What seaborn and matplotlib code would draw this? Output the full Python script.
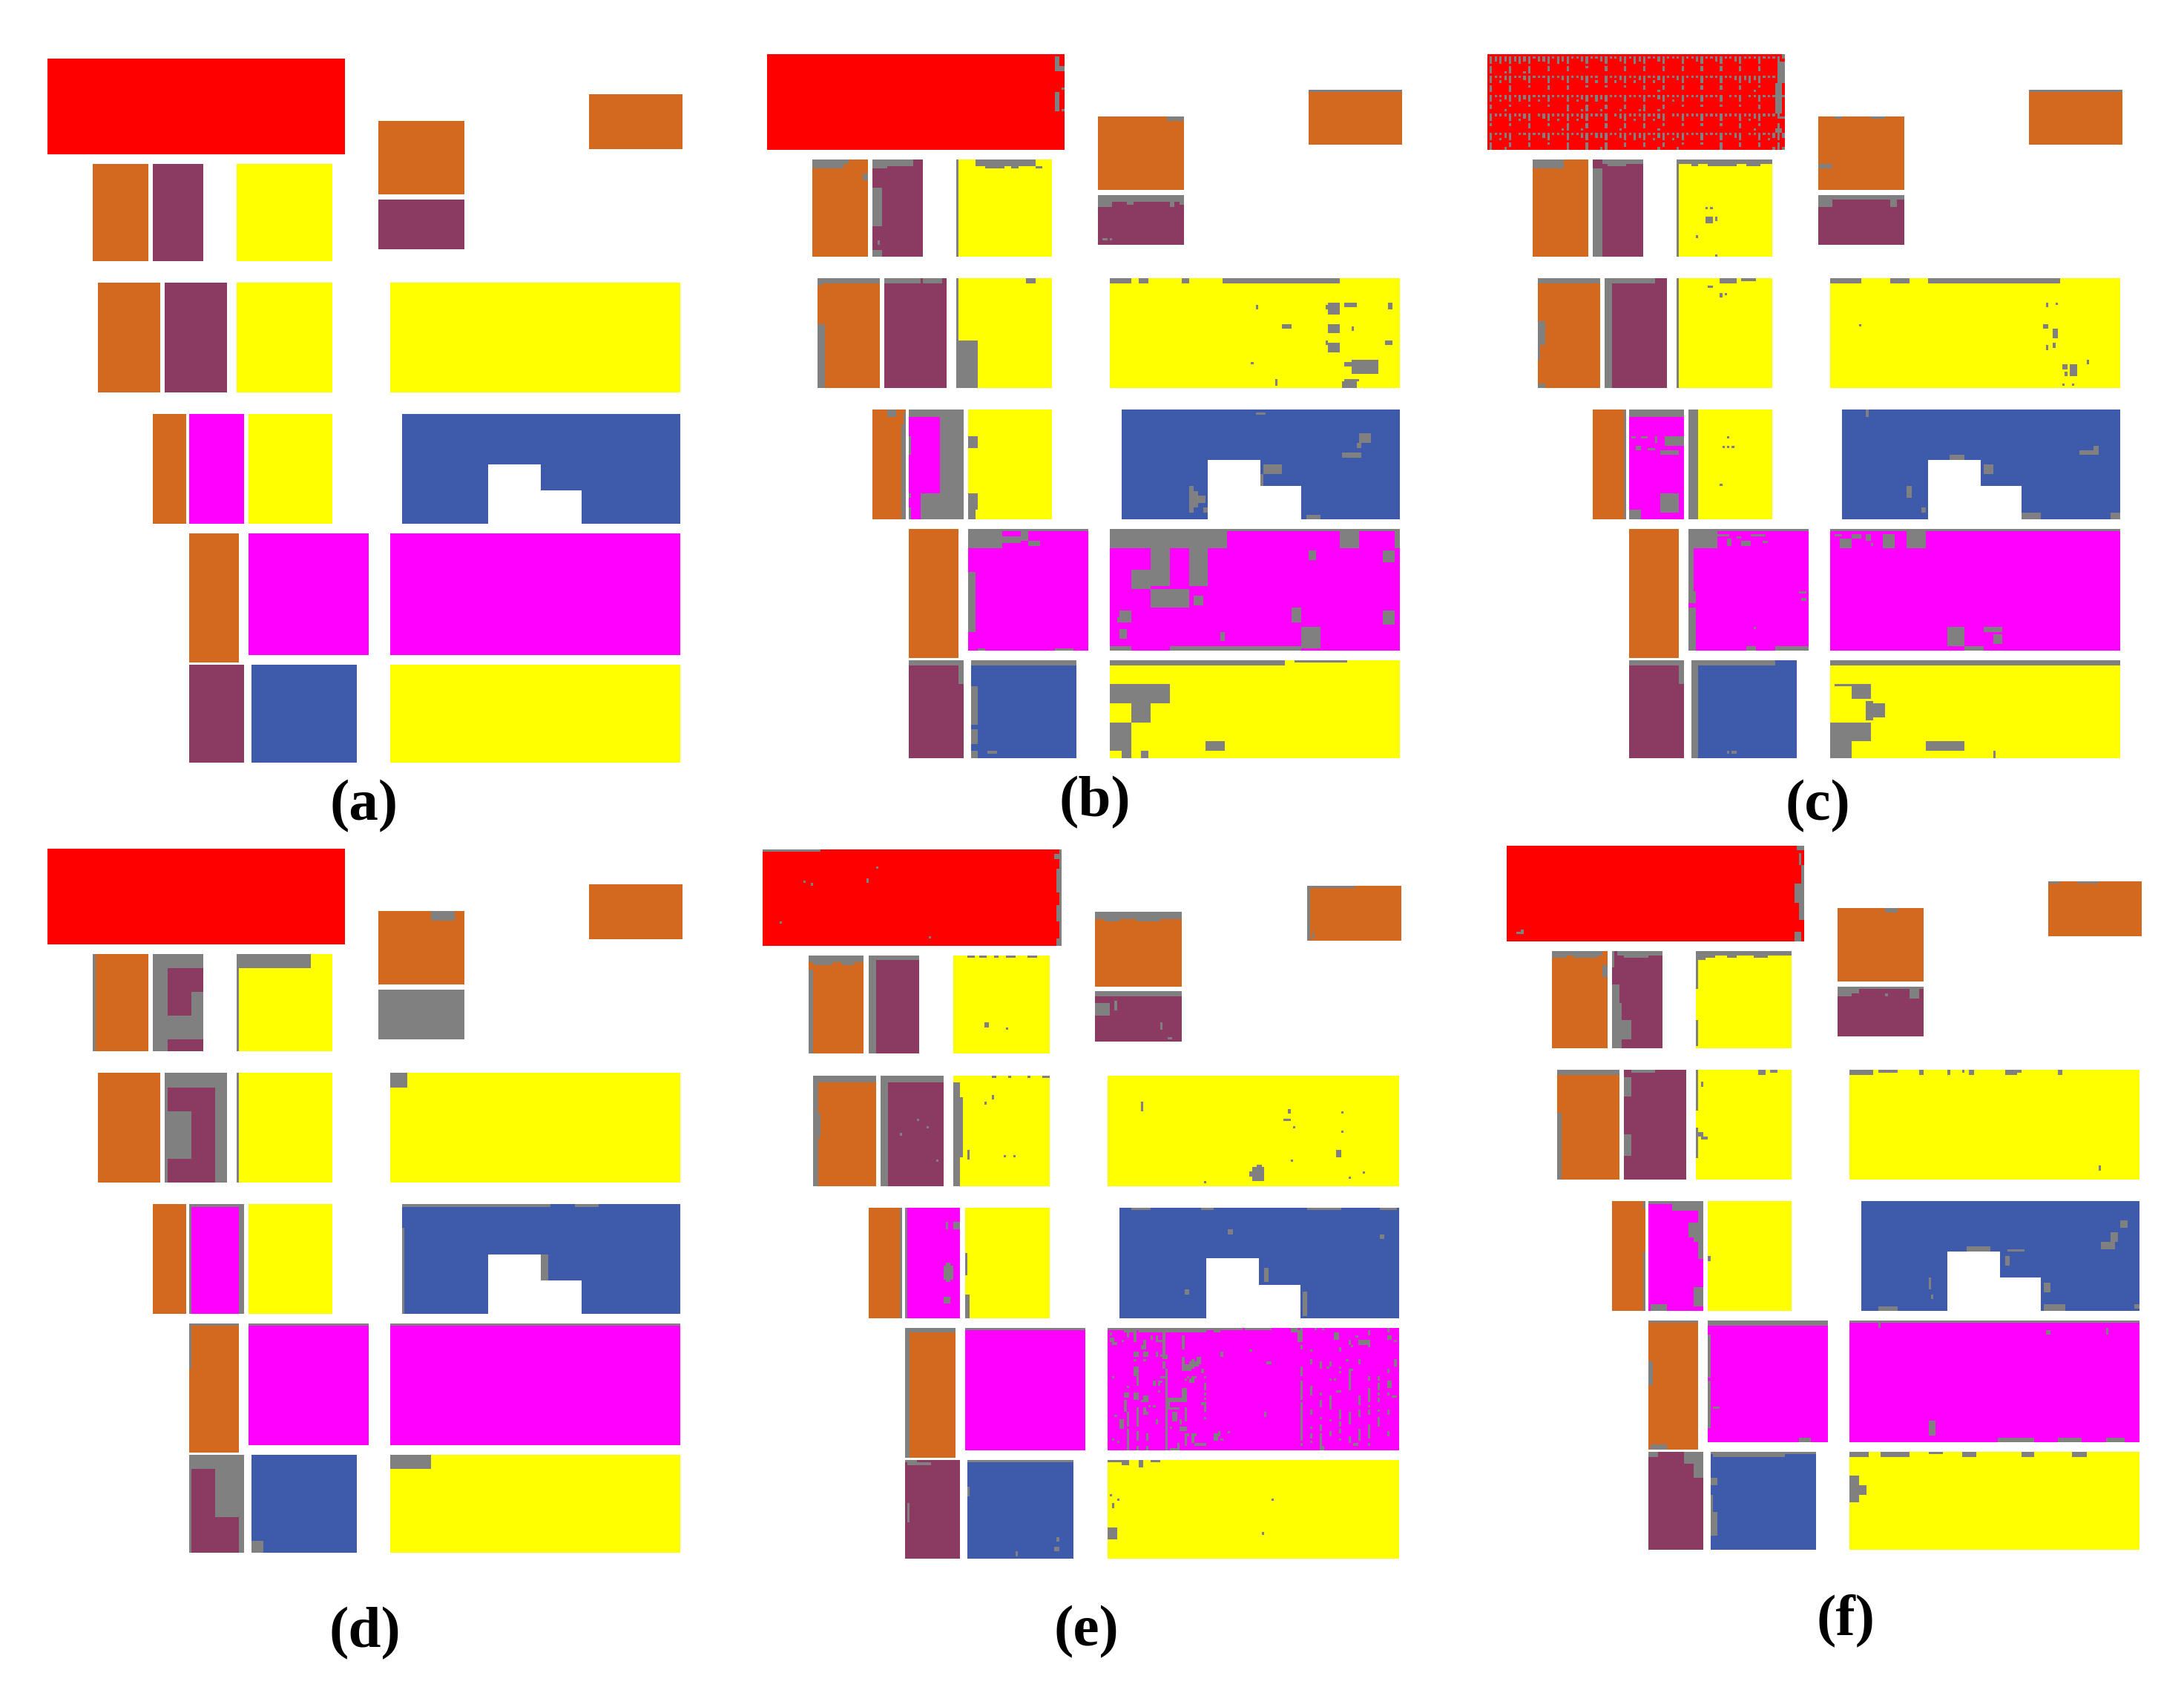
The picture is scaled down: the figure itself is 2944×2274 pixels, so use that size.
import numpy as np
import matplotlib.pyplot as plt
import seaborn as sns
from matplotlib.colors import ListedColormap

# class ids: 0 background, 1 red, 2 orange, 3 purple, 4 yellow, 5 magenta, 6 blue, 7 unlabelled
class_colors = ["#ff0000", "#d2691e", "#8b3a62", "#ffff00", "#ff00ff", "#3e5bab", "#808080"]
panel_names = ["(a)", "(b)", "(c)", "(d)", "(e)", "(f)"]

# ground truth, row bands as (n rows, [(class, n cells), ...])
gt_bands = [
    (15, [(1, 124), (0, 141)]),
    (11, [(1, 124), (0, 102), (2, 39)]),
    (12, [(1, 124), (0, 14), (2, 36), (0, 52), (2, 39)]),
    (2, [(1, 124), (0, 14), (2, 36), (0, 91)]),
    (4, [(0, 138), (2, 36), (0, 91)]),
    (13, [(0, 19), (2, 23), (0, 2), (3, 21), (0, 14), (4, 40), (0, 19), (2, 36), (0, 91)]),
    (2, [(0, 19), (2, 23), (0, 2), (3, 21), (0, 14), (4, 40), (0, 146)]),
    (21, [(0, 19), (2, 23), (0, 2), (3, 21), (0, 14), (4, 40), (0, 19), (3, 36), (0, 91)]),
    (5, [(0, 19), (2, 23), (0, 2), (3, 21), (0, 14), (4, 40), (0, 146)]),
    (9, [(0, 265)]),
    (46, [(0, 21), (2, 26), (0, 2), (3, 26), (0, 4), (4, 40), (0, 24), (4, 121), (0, 1)]),
    (9, [(0, 265)]),
    (21, [(0, 44), (2, 14), (0, 1), (5, 23), (0, 2), (4, 35), (0, 29), (6, 116), (0, 1)]),
    (11, [(0, 44), (2, 14), (0, 1), (5, 23), (0, 2), (4, 35), (0, 29), (6, 36), (0, 22), (6, 58), (0, 1)]),
    (14, [(0, 44), (2, 14), (0, 1), (5, 23), (0, 2), (4, 35), (0, 29), (6, 36), (0, 39), (6, 41), (0, 1)]),
    (4, [(0, 265)]),
    (51, [(0, 59), (2, 21), (0, 4), (5, 50), (0, 9), (5, 121), (0, 1)]),
    (3, [(0, 59), (2, 21), (0, 185)]),
    (1, [(0, 265)]),
    (41, [(0, 59), (3, 23), (0, 3), (6, 44), (0, 14), (4, 121), (0, 1)]),
]

# unlabelled cells per result, as (row, col, n rows, n cols)
errors_a = []
errors_b = [
    (1, 120, 6, 2), (5, 122, 2, 2), (16, 120, 8, 2), (14, 123, 1, 1), (23, 123, 1, 1),
    (26, 167, 2, 7), (15, 226, 1, 39), (44, 19, 4, 13), (44, 32, 2, 2), (50, 40, 3, 2),
    (44, 46, 3, 15), (44, 44, 4, 6), (56, 44, 16, 4), (82, 44, 3, 4), (78, 46, 2, 1),
    (44, 79, 41, 1), (44, 87, 3, 25), (47, 91, 1, 8), (47, 102, 1, 3), (47, 112, 1, 3),
    (59, 138, 3, 36), (62, 138, 2, 6), (62, 150, 1, 3), (62, 168, 2, 2), (62, 172, 1, 2),
    (77, 140, 1, 2), (77, 143, 1, 1),
    (94, 21, 2, 26), (96, 21, 1, 2), (113, 21, 27, 3), (94, 49, 2, 15), (94, 65, 2, 8),
    (94, 79, 26, 1), (120, 79, 20, 9), (94, 108, 2, 4),
    (94, 143, 2, 9), (94, 155, 2, 4), (94, 173, 2, 3), (94, 190, 2, 49),
    (104, 234, 5, 5), (105, 233, 2, 1), (104, 241, 2, 5), (104, 259, 3, 2), (105, 204, 2, 1), (113, 215, 2, 4),
    (113, 234, 4, 5), (114, 244, 2, 1), (121, 234, 4, 5), (120, 233, 2, 1), (120, 258, 2, 3), (129, 202, 1, 1),
    (128, 244, 6, 11), (129, 241, 2, 3), (136, 212, 3, 1), (137, 240, 3, 6), (136, 241, 1, 6),
    (149, 50, 3, 4), (155, 56, 40, 2), (150, 57, 5, 1),
    (149, 59, 3, 23), (152, 72, 43, 10), (184, 64, 11, 18), (160, 59, 8, 1), (184, 59, 2, 1), (190, 59, 5, 1),
    (160, 84, 5, 4), (184, 84, 7, 4), (191, 84, 4, 3),
    (159, 247, 4, 5), (163, 246, 2, 2), (167, 240, 2, 8), (172, 207, 4, 8), (176, 206, 6, 1),
    (181, 176, 11, 2), (183, 178, 7, 2), (185, 180, 3, 3), (190, 182, 2, 2), (193, 225, 2, 6), (150, 204, 1, 4),
    (199, 84, 1, 50), (199, 84, 8, 14), (202, 98, 3, 8), (199, 106, 5, 3), (204, 109, 2, 5),
    (217, 84, 25, 3), (249, 88, 1, 3), (249, 120, 1, 8),
    (199, 143, 8, 49), (199, 239, 8, 8), (199, 262, 8, 2), (199, 192, 1, 72),
    (207, 160, 16, 8), (207, 176, 16, 8), (216, 152, 8, 8), (224, 160, 8, 16), (227, 178, 4, 4),
    (233, 147, 5, 5), (236, 146, 2, 1), (241, 147, 4, 3), (232, 219, 6, 4), (233, 257, 6, 5), (208, 257, 5, 5),
    (208, 226, 4, 3), (240, 223, 9, 8), (248, 168, 2, 55), (242, 189, 4, 2), (248, 143, 2, 9),
    (254, 59, 2, 23), (256, 80, 8, 2),
    (254, 85, 2, 44), (265, 85, 16, 3), (283, 85, 6, 3), (292, 85, 3, 3), (292, 92, 1, 4),
    (254, 143, 2, 73), (254, 220, 1, 22), (264, 143, 8, 25), (272, 152, 8, 8), (280, 143, 12, 9),
    (292, 148, 3, 4), (288, 183, 4, 8), (292, 156, 3, 3),
]
errors_c = [
    (3, 121, 9, 3), (10, 122, 2, 1), (9, 121, 3, 3), (12, 120, 6, 3), (17, 119, 1, 5),
    (18, 120, 7, 3), (25, 121, 2, 1), (26, 122, 1, 2), (29, 121, 2, 1), (31, 120, 2, 3), (0, 123, 1, 1),
    (15, 226, 1, 39), (26, 145, 1, 3), (26, 160, 1, 6), (46, 138, 2, 6),
    (44, 19, 4, 13), (48, 44, 37, 4), (44, 48, 2, 17), (46, 50, 1, 8),
    (44, 79, 41, 1), (44, 80, 2, 40), (46, 85, 1, 3), (46, 92, 1, 12), (46, 108, 1, 6),
    (64, 91, 1, 1), (64, 93, 1, 1), (68, 91, 3, 3), (68, 95, 2, 1), (76, 87, 1, 1), (84, 95, 1, 1),
    (59, 138, 2, 36), (61, 138, 3, 6), (61, 168, 3, 3),
    (94, 21, 2, 26), (112, 21, 10, 3), (122, 21, 6, 1), (138, 21, 2, 3),
    (94, 49, 46, 3), (94, 52, 2, 18), (94, 79, 46, 1), (94, 97, 2, 7), (94, 106, 1, 6),
    (100, 97, 2, 1), (97, 92, 1, 2), (100, 99, 1, 1),
    (94, 143, 2, 13), (94, 168, 2, 8), (94, 184, 2, 55), (104, 233, 2, 1), (104, 237, 1, 1),
    (113, 232, 2, 2), (115, 236, 4, 2), (122, 233, 2, 1), (121, 236, 2, 1), (130, 243, 5, 3),
    (130, 240, 2, 2), (133, 241, 2, 1), (128, 250, 2, 1), (138, 240, 1, 1), (138, 244, 1, 1), (113, 155, 1, 1),
    (149, 57, 46, 1), (149, 59, 3, 23), (160, 60, 1, 2), (160, 64, 1, 3), (160, 70, 3, 1), (160, 74, 4, 8),
    (164, 62, 2, 2), (165, 67, 1, 3), (166, 72, 2, 8), (184, 72, 8, 8), (191, 59, 4, 5),
    (149, 84, 46, 4), (160, 100, 1, 1), (164, 98, 1, 1), (164, 100, 1, 1), (164, 102, 1, 1), (180, 97, 1, 1),
    (149, 158, 3, 1), (168, 193, 2, 6), (172, 207, 4, 4), (181, 175, 5, 2), (166, 247, 2, 8),
    (164, 253, 2, 2), (192, 223, 3, 8), (192, 260, 3, 4), (190, 181, 2, 2),
    (199, 84, 1, 50), (200, 84, 7, 12), (201, 96, 1, 5), (203, 100, 3, 2), (202, 104, 1, 2),
    (204, 106, 2, 4), (201, 110, 1, 6), (204, 115, 1, 2), (207, 84, 18, 2), (225, 84, 5, 3),
    (232, 84, 18, 3), (248, 108, 2, 4), (248, 120, 2, 14), (225, 130, 1, 3), (228, 131, 1, 2), (240, 111, 1, 1),
    (199, 143, 1, 121), (201, 145, 1, 3), (203, 147, 4, 5), (201, 152, 2, 4), (201, 158, 3, 2),
    (205, 160, 1, 1), (201, 165, 6, 5), (199, 175, 8, 8), (240, 192, 8, 7), (240, 207, 2, 8),
    (243, 211, 4, 4), (248, 199, 2, 8),
    (254, 59, 2, 23), (256, 80, 8, 2), (254, 85, 2, 35), (254, 85, 41, 3), (292, 100, 1, 1), (292, 102, 1, 2),
    (254, 143, 2, 121), (280, 143, 8, 17), (288, 143, 7, 9), (264, 145, 1, 8), (264, 152, 6, 8),
    (271, 158, 8, 3), (272, 160, 6, 6), (288, 183, 4, 16), (292, 211, 3, 1),
]
errors_d = [
    (26, 160, 4, 10), (59, 138, 21, 36), (44, 19, 41, 1),
    (44, 44, 6, 21), (50, 44, 35, 6), (60, 60, 20, 5), (70, 50, 10, 10),
    (44, 79, 6, 31), (50, 79, 35, 1),
    (94, 49, 6, 26), (100, 49, 40, 1), (100, 70, 40, 5), (110, 50, 20, 10),
    (94, 79, 46, 1), (94, 143, 6, 7),
    (149, 59, 1, 23), (149, 59, 46, 1), (149, 80, 46, 2),
    (149, 148, 1, 62), (149, 220, 1, 10), (159, 148, 36, 1), (170, 206, 11, 3),
    (199, 59, 1, 21), (199, 59, 19, 1), (199, 84, 1, 50), (199, 143, 1, 121),
    (254, 59, 6, 23), (254, 59, 41, 1), (260, 70, 20, 12), (280, 80, 15, 2),
    (290, 85, 5, 5), (254, 143, 6, 17),
]
errors_e = [
    (0, 0, 1, 24), (7, 47, 1, 1), (13, 17, 1, 1), (14, 20, 1, 1), (12, 43, 2, 1), (0, 123, 40, 1),
    (2, 121, 2, 2), (8, 122, 10, 1), (23, 122, 7, 1), (29, 122, 1, 2), (37, 122, 3, 1), (36, 69, 1, 1), (30, 7, 1, 1),
    (15, 226, 1, 20), (15, 226, 23, 1), (35, 228, 2, 1), (26, 138, 3, 36), (29, 142, 1, 6), (29, 155, 1, 10),
    (44, 19, 3, 23), (47, 21, 1, 8), (47, 33, 1, 5), (50, 19, 35, 2), (44, 44, 41, 3), (44, 47, 2, 18),
    (72, 92, 2, 2), (74, 101, 1, 1), (44, 85, 1, 3), (44, 90, 1, 3), (44, 96, 1, 2), (44, 101, 1, 4), (44, 110, 1, 4),
    (59, 138, 2, 36), (64, 138, 5, 6), (63, 146, 4, 1), (72, 165, 3, 1), (78, 168, 1, 2),
    (94, 21, 3, 26), (97, 21, 43, 2), (110, 21, 10, 3), (94, 49, 3, 26), (97, 49, 43, 3),
    (112, 64, 1, 1), (118, 57, 1, 1), (115, 68, 1, 1), (129, 72, 1, 1),
    (97, 79, 43, 3), (103, 82, 25, 1), (94, 95, 1, 2), (94, 102, 1, 1), (94, 110, 1, 1), (94, 116, 1, 3),
    (102, 95, 2, 1), (105, 92, 1, 1), (127, 100, 1, 1), (127, 104, 1, 1), (125, 85, 4, 1),
    (132, 203, 6, 5), (131, 205, 1, 2), (134, 202, 2, 1), (105, 157, 4, 1), (108, 218, 2, 1), (112, 216, 1, 3),
    (115, 220, 1, 1), (109, 240, 1, 1), (117, 240, 1, 1), (125, 238, 3, 2), (129, 219, 1, 1), (138, 183, 1, 1),
    (134, 249, 1, 1), (136, 243, 1, 1),
    (149, 57, 46, 1), (173, 75, 6, 4), (172, 76, 8, 2), (155, 76, 3, 1), (155, 79, 3, 3), (186, 75, 3, 3), (149, 59, 46, 1),
    (168, 84, 9, 1), (185, 84, 10, 2),
    (149, 153, 1, 8), (149, 182, 1, 5), (149, 226, 1, 14), (149, 256, 1, 7), (160, 256, 2, 2),
    (174, 208, 6, 2), (184, 224, 10, 2), (183, 175, 2, 2), (158, 193, 2, 2),
    (199, 59, 2, 21), (199, 59, 54, 2), (199, 84, 1, 50),
    (254, 59, 1, 5), (272, 60, 8, 1), (255, 60, 1, 10), (254, 85, 1, 44), (265, 85, 4, 1),
    (286, 122, 2, 1), (290, 121, 2, 2), (292, 105, 2, 1),
    (254, 143, 1, 9), (254, 149, 2, 3), (254, 156, 3, 2), (254, 161, 1, 4), (282, 143, 5, 4),
    (268, 144, 1, 1), (272, 145, 2, 1), (270, 147, 1, 1), (270, 211, 1, 1), (284, 207, 1, 1),
]
# streaks in the big magenta field of (e), relative to that field
errors_e_field = [
    (0, 0, 1, 56), (0, 57, 1, 11), (0, 76, 2, 3), (0, 80, 1, 1), (0, 86, 1, 1), (0, 89, 1, 1), (0, 132, 1, 1),
    (1, 7, 1, 5), (1, 13, 1, 28), (1, 44, 1, 3), (2, 8, 2, 1), (1, 11, 5, 1), (2, 1, 1, 1), (4, 1, 2, 2),
    (1, 79, 5, 2), (7, 80, 2, 1), (2, 23, 10, 1), (11, 23, 2, 2), (14, 23, 3, 1), (17, 24, 34, 1),
    (16, 11, 4, 2), (18, 12, 6, 1), (27, 11, 3, 2), (33, 12, 8, 1), (43, 12, 4, 1), (49, 12, 2, 1),
    (24, 8, 1, 1), (27, 7, 2, 2), (30, 7, 5, 1), (35, 8, 2, 1), (37, 8, 4, 1), (42, 8, 5, 1), (47, 8, 4, 1),
    (4, 2, 3, 1), (6, 3, 1, 1), (5, 6, 1, 1), (20, 2, 1, 1), (36, 3, 1, 1), (38, 5, 4, 2), (38, 6, 3, 1),
    (46, 2, 1, 1), (47, 4, 1, 1), (5, 15, 3, 1), (7, 14, 2, 2), (10, 11, 2, 2), (10, 15, 2, 2), (13, 11, 1, 1),
    (13, 15, 1, 1), (28, 15, 3, 2), (30, 14, 1, 1), (3, 18, 2, 1), (3, 20, 3, 1), (5, 21, 1, 2), (10, 20, 2, 1),
    (11, 22, 1, 1), (22, 22, 1, 1), (20, 22, 1, 2), (22, 19, 2, 1), (22, 21, 2, 1), (26, 21, 1, 1), (38, 20, 2, 1),
    (32, 17, 1, 1), (32, 19, 1, 1), (35, 15, 1, 2), (33, 15, 2, 1), (44, 16, 3, 1), (49, 16, 2, 1),
    (3, 31, 6, 1), (12, 31, 6, 1), (15, 32, 3, 3), (14, 34, 1, 1), (13, 35, 4, 1), (12, 37, 3, 2), (14, 35, 2, 3),
    (17, 39, 2, 1), (21, 32, 1, 1), (20, 33, 1, 1), (21, 34, 2, 2), (20, 35, 1, 2), (20, 40, 1, 1), (25, 32, 1, 1),
    (23, 40, 3, 1), (27, 40, 1, 1), (29, 40, 1, 1), (31, 40, 4, 1), (31, 39, 1, 1), (37, 40, 1, 1),
    (29, 25, 2, 8), (28, 31, 3, 2), (25, 31, 4, 2), (31, 24, 3, 2), (33, 26, 1, 4), (35, 27, 4, 2),
    (33, 32, 6, 1), (38, 30, 2, 1), (41, 26, 1, 1), (41, 30, 2, 3), (44, 32, 5, 1), (44, 33, 1, 1), (44, 35, 3, 1),
    (47, 35, 1, 1), (44, 36, 1, 1), (48, 36, 1, 4), (50, 26, 1, 4), (48, 29, 3, 1),
    (9, 59, 1, 1), (10, 47, 2, 1), (14, 66, 1, 2), (35, 65, 2, 1), (44, 44, 1, 3), (43, 46, 1, 1), (45, 44, 2, 2),
    (46, 47, 1, 1), (43, 50, 1, 1), (48, 40, 1, 1),
    (16, 80, 4, 1), (22, 80, 8, 1), (31, 80, 9, 1), (40, 80, 7, 1), (48, 80, 1, 1),
    (9, 84, 1, 1), (13, 84, 2, 1), (24, 84, 4, 1), (34, 84, 2, 1), (41, 84, 1, 1), (44, 84, 2, 1), (47, 84, 1, 1),
    (14, 88, 3, 1), (27, 88, 1, 1), (30, 88, 3, 1), (37, 88, 1, 1), (40, 88, 3, 1), (44, 88, 5, 1), (49, 88, 2, 2),
    (14, 92, 2, 1), (16, 91, 1, 1), (21, 92, 1, 1), (28, 92, 6, 1), (38, 92, 1, 1), (43, 92, 2, 1),
    (21, 94, 1, 1), (26, 95, 1, 2), (16, 96, 1, 1), (18, 96, 1, 1), (34, 96, 4, 1), (39, 96, 2, 1), (42, 96, 2, 1),
    (46, 96, 1, 1), (8, 96, 2, 1), (2, 94, 3, 2), (17, 100, 1, 2), (18, 100, 8, 1), (35, 100, 5, 1), (13, 99, 1, 1),
    (45, 100, 2, 1), (47, 100, 1, 1), (5, 100, 2, 1), (7, 101, 1, 1),
    (3, 103, 1, 1), (5, 104, 2, 2), (13, 104, 2, 1), (28, 104, 4, 1), (34, 104, 3, 1), (42, 104, 5, 1), (48, 102, 1, 2),
    (5, 106, 2, 3), (1, 108, 2, 1), (7, 108, 1, 1), (20, 108, 2, 1), (25, 108, 6, 1), (32, 108, 1, 1), (34, 108, 2, 1),
    (40, 108, 6, 1), (48, 108, 1, 1), (23, 112, 3, 1), (27, 112, 1, 1), (29, 112, 2, 1), (34, 112, 1, 1), (37, 112, 4, 1),
    (20, 112, 2, 1), (3, 116, 2, 2), (0, 116, 2, 1), (17, 116, 2, 1), (22, 116, 3, 2), (27, 116, 1, 1), (34, 116, 2, 1),
    (43, 116, 2, 1), (5, 119, 1, 1), (13, 119, 3, 1), (28, 118, 1, 2),
]
errors_f = [
    (0, 121, 2, 3), (3, 122, 5, 1), (8, 123, 8, 1), (16, 120, 8, 4), (24, 122, 7, 2), (36, 120, 4, 3),
    (36, 4, 1, 3), (35, 6, 1, 1),
    (15, 226, 1, 5), (15, 238, 1, 9), (26, 158, 2, 5),
    (44, 19, 2, 21), (46, 19, 1, 6), (46, 28, 1, 10), (50, 40, 5, 2), (44, 46, 2, 19), (46, 49, 1, 10),
    (58, 44, 27, 3), (66, 47, 19, 1), (73, 48, 8, 4), (44, 44, 7, 1),
    (44, 79, 2, 41), (46, 79, 1, 8), (46, 92, 1, 4), (46, 103, 1, 6), (47, 80, 1, 3), (44, 79, 16, 1), (73, 79, 11, 1),
    (59, 138, 3, 9), (59, 147, 1, 27), (62, 138, 1, 6), (62, 158, 1, 1), (60, 168, 4, 4),
    (94, 21, 2, 26), (112, 21, 28, 2), (120, 22, 10, 1), (97, 49, 8, 3), (121, 49, 9, 3), (94, 52, 1, 10),
    (94, 79, 17, 1), (118, 79, 13, 1), (120, 80, 2, 2), (122, 81, 1, 3), (99, 81, 2, 1),
    (94, 105, 2, 3), (94, 110, 1, 3),
    (94, 143, 2, 10), (94, 155, 1, 8), (94, 172, 2, 2), (94, 184, 2, 1), (94, 190, 1, 1), (94, 193, 2, 2),
    (94, 208, 2, 5), (94, 213, 1, 2), (94, 230, 2, 2), (134, 247, 2, 1),
    (170, 57, 20, 1), (149, 57, 3, 1), (190, 57, 5, 1),
    (149, 69, 4, 13), (149, 59, 1, 10), (153, 80, 20, 2), (158, 76, 6, 5), (163, 78, 3, 3),
    (185, 78, 8, 4), (192, 60, 3, 7), (172, 84, 2, 1),
    (166, 248, 3, 6), (162, 252, 4, 3), (157, 256, 3, 3), (168, 192, 2, 10), (169, 209, 1, 7),
    (172, 208, 4, 2), (183, 224, 4, 3), (192, 224, 3, 9), (192, 262, 2, 3), (193, 155, 2, 8),
    (181, 176, 5, 1), (188, 177, 2, 1),
    (199, 59, 1, 21), (216, 59, 10, 2), (251, 60, 2, 7),
    (199, 84, 2, 50), (205, 84, 18, 1), (224, 84, 20, 1), (235, 86, 1, 3), (248, 122, 2, 5),
    (199, 143, 1, 121), (199, 155, 3, 1), (203, 225, 2, 2), (202, 250, 3, 1), (241, 176, 6, 3),
    (248, 205, 2, 15), (248, 230, 2, 10), (248, 250, 2, 8),
    (254, 74, 5, 8), (259, 78, 6, 4), (254, 59, 2, 4),
    (254, 85, 1, 44), (255, 86, 1, 30), (265, 85, 3, 3), (272, 85, 8, 1), (279, 85, 10, 3),
    (254, 143, 2, 8), (254, 156, 2, 12), (254, 176, 1, 6), (254, 190, 2, 6), (254, 215, 2, 5), (254, 236, 2, 6),
    (264, 143, 11, 4), (268, 147, 4, 3),
]

# dotted texture over the red field of (c), one string per group of four rows,
# one letter every two columns: s single, 2 and 3 tall, b low dot, x single plus low dot
red_dots_c = [
    "323232323s223s323ss23ss23ss23s323" + "ss23sss3ss23ss23ss23sss3sss3s",
    "3..b3..b3...2...2...s...2...2...2" + "...2...2...2...2...2...2...3.",
    "3sx23ss23sss3ss23ss23sx.3sx23sx23" + "sx23ss23sss3sss3ss232323sss3.",
    "3...3...s...2...2...s...s...s...2" + "..b2...2...2...2...2..bs.....",
    "3sx23s323sxs3sss3sx23s323sss3sss3" + "ss23sxs3sss3sss3.ss3.ss3ss...",
    "2..bs...s...s...3..b3..b2..b2..b3" + "..b2...s...s...s...s...2.....",
    "3sss3sx23.s23sxs3sx23sss3.s23sxs3" + "sx23.ss3sss3sss3sss3sx23sss2.",
    "s...s...2...s..b3..b2...2..b2...2" + "..bs...s...s...s...2..bs.....",
    "3sx23.ss3ss23sss3ss23s223ss23s323" + "sx23sx23sss3sss3ss23.ss3sx232",
    "3..b2...2...s...3...3..b3...2...2" + "..b2..bs...s...3...2...2..b3b",
]

panel_errors = [errors_a, errors_b, errors_c, errors_d, errors_e, errors_f]
# left, top, width, height in figure pixels
panel_boxes = [
    (64, 79, 856, 949), (1034, 73, 856, 949), (2005, 73, 856, 949),
    (64, 1144, 856, 949), (1028, 1145, 861, 956), (2031, 1140, 856, 949),
]
label_spots = [(491, 1087), (1476, 1082), (2450, 1087), (492, 2202), (1464, 2200), (2488, 2184)]

FIG_W, FIG_H = 2944, 2274


def ground_truth():
    rows = []
    for n_rows, runs in gt_bands:
        row = np.concatenate([np.full(n, c) for c, n in runs])
        rows.extend([row] * n_rows)
    return np.array(rows)


def add_errors(grid, patches, r0=0, c0=0):
    for r, c, h, w in patches:
        part = grid[r0 + r:r0 + r + h, c0 + c:c0 + c + w]
        part[part > 0] = 7


def add_red_dots(grid):
    # the red field only, it is 40 rows high
    for g, line in enumerate(red_dots_c):
        top = 1 + 4 * g
        for m, ch in enumerate(line):
            col = 1 + 2 * m
            cells = {"s": [0], "2": [0, 1], "3": [0, 1, 2], "b": [2], "x": [0, 2]}.get(ch, [])
            for k in cells:
                if top + k < 40:
                    grid[top + k, col] = 7


sns.set_theme(style="white")
plt.rcParams["font.family"] = ["Liberation Serif", "DejaVu Serif"]

fig = plt.figure(figsize=(FIG_W / 100, FIG_H / 100), dpi=100)
cmap = ListedColormap(class_colors)
truth = ground_truth()

for i, name in enumerate(panel_names):
    grid = truth.copy()
    add_errors(grid, panel_errors[i])
    if name == "(c)":
        add_red_dots(grid)
    if name == "(e)":
        add_errors(grid, errors_e_field, 199, 143)

    x, y, w, h = panel_boxes[i]
    ax = fig.add_axes([x / FIG_W, 1 - (y + h) / FIG_H, w / FIG_W, h / FIG_H])
    sns.heatmap(grid, mask=grid == 0, cmap=cmap, vmin=1, vmax=7, cbar=False,
                xticklabels=False, yticklabels=False, ax=ax)
    ax.set_facecolor("white")

    lx, ly = label_spots[i]
    fig.text(lx / FIG_W, 1 - ly / FIG_H, name, ha="center", va="center",
             fontsize=57, fontweight="bold", color="black")

fig.savefig("out.png", dpi=100, facecolor="white")
